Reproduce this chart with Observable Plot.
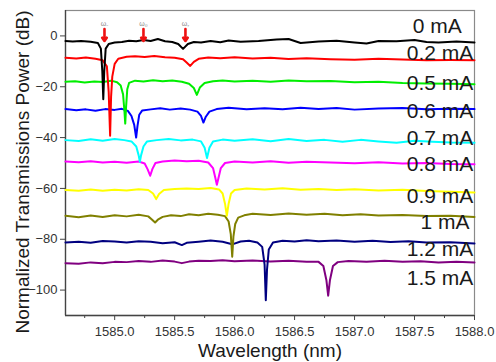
<!DOCTYPE html>
<html>
<head>
<meta charset="utf-8">
<script src="https://cdn.jsdelivr.net/npm/d3@7"></script>
<script src="https://cdn.jsdelivr.net/npm/@observablehq/plot@0.6"></script>
<style>
  html, body { margin: 0; padding: 0; background: #fff; }
  #chart svg { display: block; font-family: "Liberation Sans", Arial, sans-serif; }
</style>
</head>
<body>
<div id="chart"></div>
<script>
// ---- data (wavelength nm, normalized transmission dB) ----
const currents = ["0 mA", "0.2 mA", "0.5 mA", "0.6 mA", "0.7 mA", "0.8 mA", "0.9 mA", "1 mA", "1.2 mA", "1.5 mA"];
const colors = ["#000000", "#ff0000", "#00ee00", "#0000ff", "#00ffff", "#ff00ff", "#ffff00", "#808000", "#000080", "#800080"];

const s0 = [[1584.59,-2.0],[1584.65,-2.2],[1584.72,-2.0],[1584.80,-2.3],[1584.86,-2.8],[1584.885,-5],[1584.897,-14],[1584.905,-24.9],[1584.913,-14],[1584.925,-5],[1584.95,-3.2],[1585.00,-2.6],[1585.06,-2.4],[1585.12,-1.9],[1585.18,-2.1],[1585.24,-1.6],[1585.30,-2.0],[1585.36,-1.2],[1585.42,-2.1],[1585.48,-2.4],[1585.53,-3.2],[1585.57,-5.1],[1585.61,-3.2],[1585.66,-2.4],[1585.72,-2.6],[1585.80,-2.0],[1585.88,-2.5],[1585.95,-1.8],[1586.05,-2.3],[1586.2,-2.0],[1586.35,-1.4],[1586.45,-1.2],[1586.55,-2.8],[1586.7,-2.2],[1586.85,-1.9],[1587.0,-2.6],[1587.1,-3.0],[1587.2,-2.0],[1587.35,-2.1],[1587.5,-1.6],[1587.6,-2.4],[1587.7,-2.6],[1587.85,-2.2],[1588.0,-2.6]];
const s02 = [[1584.59,-8.6],[1584.68,-8.9],[1584.76,-8.5],[1584.84,-9.0],[1584.90,-9.6],[1584.935,-12],[1584.950,-22],[1584.962,-39.3],[1584.970,-24],[1584.98,-16],[1585.0,-11],[1585.03,-9.0],[1585.10,-8.2],[1585.17,-8.0],[1585.25,-8.3],[1585.33,-7.9],[1585.42,-8.4],[1585.50,-8.6],[1585.57,-9.2],[1585.60,-10.5],[1585.63,-11.8],[1585.66,-10.2],[1585.70,-9.0],[1585.78,-8.5],[1585.88,-8.8],[1586.0,-8.4],[1586.15,-8.9],[1586.3,-8.6],[1586.45,-9.1],[1586.6,-8.8],[1586.8,-9.2],[1587.0,-9.4],[1587.2,-9.0],[1587.4,-9.3],[1587.6,-9.6],[1587.8,-9.5],[1588.0,-9.6]];
const s05 = [[1584.59,-18.0],[1584.67,-17.8],[1584.75,-18.3],[1584.83,-17.9],[1584.90,-18.1],[1584.97,-17.6],[1585.02,-18.2],[1585.05,-19.5],[1585.07,-23],[1585.082,-30],[1585.088,-34.5],[1585.095,-28],[1585.105,-21],[1585.12,-18.5],[1585.17,-17.6],[1585.24,-17.9],[1585.32,-17.4],[1585.40,-17.8],[1585.48,-17.5],[1585.56,-18.0],[1585.62,-18.8],[1585.66,-20.5],[1585.685,-23.2],[1585.71,-20.3],[1585.75,-18.5],[1585.82,-17.8],[1585.90,-17.5],[1586.0,-17.9],[1586.15,-17.6],[1586.3,-18.0],[1586.45,-17.5],[1586.6,-17.8],[1586.8,-17.7],[1587.0,-18.2],[1587.2,-18.0],[1587.4,-18.5],[1587.6,-18.7],[1587.8,-18.8],[1588.0,-19.0]];
const s06 = [[1584.59,-28.8],[1584.68,-29.2],[1584.76,-28.9],[1584.84,-29.4],[1584.92,-28.8],[1585.0,-29.1],[1585.06,-28.7],[1585.11,-29.5],[1585.14,-31.5],[1585.163,-35],[1585.179,-40],[1585.19,-35.5],[1585.205,-31],[1585.23,-29.3],[1585.30,-28.9],[1585.38,-28.5],[1585.46,-29.0],[1585.55,-28.6],[1585.63,-29.0],[1585.69,-29.8],[1585.72,-31.5],[1585.74,-34.1],[1585.76,-31.8],[1585.79,-29.8],[1585.85,-28.8],[1585.95,-28.3],[1586.1,-28.9],[1586.25,-28.5],[1586.4,-28.9],[1586.55,-28.3],[1586.7,-28.8],[1586.85,-28.4],[1587.0,-29.0],[1587.2,-28.6],[1587.4,-28.4],[1587.6,-28.9],[1587.8,-28.7],[1588.0,-28.8]];
const s07 = [[1584.59,-41.0],[1584.70,-41.3],[1584.80,-40.7],[1584.90,-41.2],[1585.0,-40.6],[1585.08,-41.0],[1585.14,-41.5],[1585.18,-43.5],[1585.20,-47],[1585.21,-49.5],[1585.22,-47],[1585.24,-43.5],[1585.27,-41.5],[1585.35,-41.0],[1585.45,-40.6],[1585.55,-41.1],[1585.65,-40.8],[1585.72,-41.5],[1585.75,-44],[1585.77,-48],[1585.79,-44],[1585.82,-41.5],[1585.90,-40.8],[1586.0,-41.2],[1586.15,-40.7],[1586.3,-41.4],[1586.45,-40.6],[1586.6,-41.3],[1586.75,-40.9],[1586.9,-41.6],[1587.05,-40.9],[1587.2,-41.5],[1587.35,-42.0],[1587.5,-41.2],[1587.65,-41.6],[1587.8,-41.9],[1588.0,-42.0]];
const s08 = [[1584.59,-49.4],[1584.70,-49.7],[1584.80,-49.3],[1584.90,-49.8],[1585.0,-49.5],[1585.10,-49.9],[1585.20,-49.4],[1585.25,-50.2],[1585.275,-52.5],[1585.296,-55],[1585.315,-52.3],[1585.34,-50.0],[1585.40,-49.4],[1585.50,-49.0],[1585.60,-49.3],[1585.70,-49.1],[1585.78,-49.8],[1585.82,-52],[1585.84,-56],[1585.852,-58.6],[1585.865,-56],[1585.885,-52],[1585.92,-50],[1586.0,-49.4],[1586.15,-49.8],[1586.3,-49.3],[1586.45,-49.9],[1586.6,-49.5],[1586.8,-49.8],[1587.0,-50.1],[1587.2,-49.7],[1587.4,-50.2],[1587.6,-50.0],[1587.8,-50.4],[1588.0,-50.5]];
const s09 = [[1584.59,-60.6],[1584.70,-60.9],[1584.80,-60.4],[1584.90,-60.9],[1585.0,-60.5],[1585.10,-60.8],[1585.20,-60.3],[1585.28,-60.6],[1585.32,-62],[1585.346,-64.2],[1585.37,-62.2],[1585.41,-60.6],[1585.50,-60.2],[1585.60,-60.0],[1585.70,-60.2],[1585.80,-59.8],[1585.87,-60.4],[1585.90,-62],[1585.92,-66],[1585.935,-70.8],[1585.95,-66],[1585.97,-62],[1586.0,-60.6],[1586.1,-60.0],[1586.25,-60.4],[1586.4,-59.9],[1586.55,-60.5],[1586.7,-60.2],[1586.85,-60.6],[1587.0,-60.3],[1587.2,-60.8],[1587.4,-60.5],[1587.6,-61.0],[1587.8,-61.3],[1588.0,-61.6]];
const s1 = [[1584.59,-70.8],[1584.70,-71.3],[1584.80,-70.7],[1584.90,-71.2],[1585.0,-70.6],[1585.10,-71.0],[1585.20,-70.4],[1585.28,-71.0],[1585.31,-72.2],[1585.337,-73.4],[1585.36,-72.3],[1585.40,-71.2],[1585.47,-70.6],[1585.55,-70.9],[1585.62,-70.2],[1585.70,-70.6],[1585.78,-70.0],[1585.86,-70.4],[1585.92,-70.9],[1585.95,-73],[1585.968,-78],[1585.98,-86.9],[1585.99,-79],[1586.005,-74],[1586.03,-71.5],[1586.08,-70.6],[1586.15,-70.0],[1586.3,-70.5],[1586.45,-69.9],[1586.6,-70.4],[1586.75,-70.0],[1586.9,-70.6],[1587.05,-70.2],[1587.2,-70.7],[1587.4,-70.5],[1587.6,-70.9],[1587.8,-70.8],[1588.0,-71.2]];
const s12 = [[1584.59,-81.3],[1584.70,-81.0],[1584.80,-81.4],[1584.90,-80.7],[1585.0,-80.9],[1585.10,-81.3],[1585.20,-80.8],[1585.30,-81.0],[1585.40,-81.6],[1585.50,-81.2],[1585.56,-82.3],[1585.60,-81.4],[1585.70,-81.0],[1585.80,-80.5],[1585.90,-81.0],[1585.98,-82.0],[1586.05,-80.9],[1586.12,-80.6],[1586.19,-81.3],[1586.23,-83],[1586.25,-90],[1586.26,-104],[1586.27,-92],[1586.285,-84],[1586.32,-81.3],[1586.40,-80.6],[1586.50,-80.9],[1586.60,-80.4],[1586.70,-80.8],[1586.85,-80.5],[1587.0,-81.0],[1587.15,-80.6],[1587.3,-81.1],[1587.45,-80.8],[1587.6,-81.3],[1587.8,-81.2],[1588.0,-81.7]];
const s15 = [[1584.59,-89.4],[1584.70,-89.6],[1584.80,-89.1],[1584.90,-89.4],[1585.0,-88.9],[1585.10,-89.0],[1585.20,-88.6],[1585.30,-88.9],[1585.40,-88.4],[1585.50,-88.8],[1585.56,-89.4],[1585.62,-88.8],[1585.70,-88.5],[1585.80,-88.6],[1585.90,-88.3],[1586.0,-88.7],[1586.15,-88.4],[1586.3,-88.8],[1586.45,-88.5],[1586.6,-88.9],[1586.70,-88.9],[1586.74,-90.5],[1586.765,-96],[1586.78,-102.2],[1586.795,-96],[1586.82,-90.5],[1586.86,-89.0],[1586.95,-88.6],[1587.1,-88.9],[1587.25,-88.5],[1587.4,-88.9],[1587.55,-88.7],[1587.7,-89.1],[1587.85,-88.9],[1588.0,-89.1]];

const series = [s0, s02, s05, s06, s07, s08, s09, s1, s12, s15];

// curve labels: [x nm, y dB]
const labelX = [1587.69, 1587.7125, 1587.7125, 1587.7125, 1587.7125, 1587.7125, 1587.7125, 1587.754, 1587.7125, 1587.7125];
const labelY = [3.7, -6.9, -18.7, -29.8, -40.4, -50.4, -63.0, -73.5, -84.0, -95.5];

// resonance markers
const markerNames = ["ω₋", "ω₀", "ω₊"];
const markerX = [1584.915, 1585.24, 1585.59];

const xTicks = [1585.0, 1585.5, 1586.0, 1586.5, 1587.0, 1587.5, 1588.0];
const xMinor = [1584.75, 1585.25, 1585.75, 1586.25, 1586.75, 1587.25, 1587.75];
const yTicks = [0, -20, -40, -60, -80, -100];

// ---- build tables ----
const table = series.flatMap((pts, i) => pts.map(([w, p]) => ({w, p, s: currents[i], k: i})));
const drawTable = table.slice().sort((a, b) => b.k - a.k);
const labels = currents.map((c, i) => ({c, x: labelX[i], y: labelY[i]}));
const markers = markerNames.map((n, i) => ({n, x: markerX[i]}));

const chart = Plot.plot({
  width: 496,
  height: 362,
  marginLeft: 65,
  marginRight: 22,
  marginTop: 10,
  marginBottom: 47,
  style: {fontFamily: "'Liberation Sans', Arial, sans-serif", background: "#fff"},
  x: {domain: [1584.59, 1588.0]},
  y: {domain: [-110, 10]},
  color: {domain: currents, range: colors},
  marks: [
    Plot.frame({stroke: "#8a8a8a", strokeWidth: 1.2}),
    Plot.axisX(xMinor, {tickSize: 3, tickFormat: () => "", stroke: "#444", label: null}),
    Plot.axisX(xTicks, {tickSize: 5, tickPadding: 6, fontSize: 13, tickFormat: d3.format(".1f"), stroke: "#444", color: "#333", label: null}),
    Plot.axisY(yTicks, {tickSize: 5, tickPadding: 3, fontSize: 13, stroke: "#444", color: "#333", label: null}),
    Plot.ruleX([1584.59], {stroke: "#444", strokeWidth: 1.3}),
    Plot.ruleY([-110], {stroke: "#444", strokeWidth: 1.3}),
    Plot.line(drawTable, {x: "w", y: "p", z: "k", stroke: "s", strokeWidth: 2, curve: "linear"}),
    Plot.arrow(markers, {x1: "x", x2: "x", y1: () => 2.7, y2: () => -2.0, stroke: "#ee1111", strokeWidth: 2.6, headLength: 6, headAngle: 70}),
    Plot.text(markers, {x: "x", y: () => 4.6, text: "n", fontSize: 7, fill: "#888"}),
    Plot.text(labels, {x: "x", y: "y", text: "c", fontSize: 21, fill: "#1a1a1a", textAnchor: "middle"}),
    Plot.text(["Wavelength (nm)"], {frameAnchor: "bottom", dy: 35, lineAnchor: "middle", fontSize: 19, fill: "#1a1a1a"}),
    Plot.text(["Normalized Transmissions Power (dB)"], {frameAnchor: "left", dx: -43, dy: 9, rotate: -90, textAnchor: "middle", lineAnchor: "middle", fontSize: 19, fill: "#1a1a1a"})
  ]
});
document.getElementById("chart").appendChild(chart);
</script>
</body>
</html>
